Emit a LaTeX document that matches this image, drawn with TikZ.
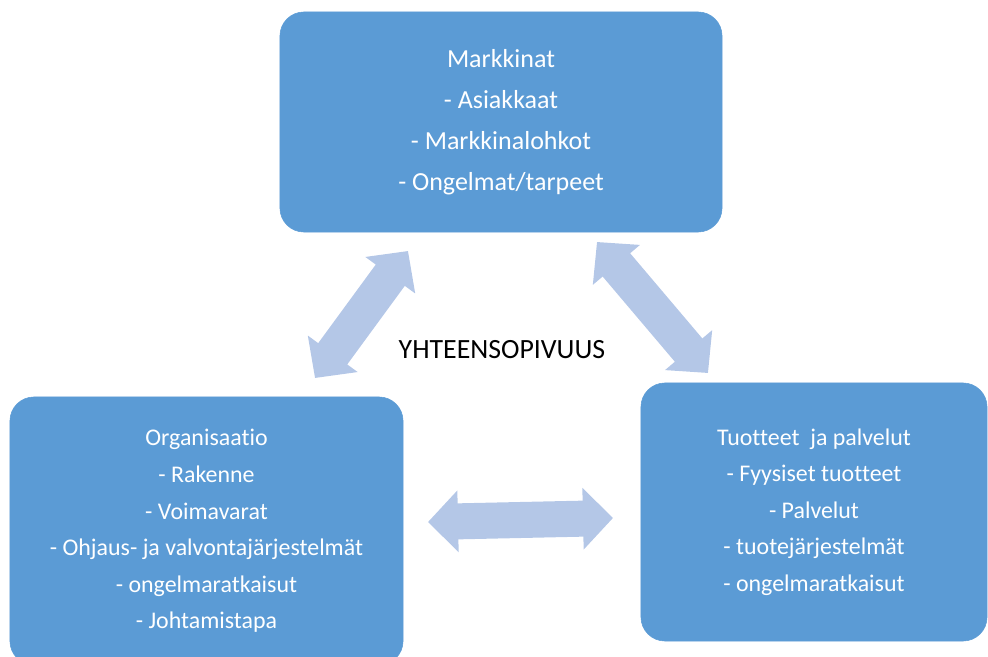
\documentclass[tikz,border=0pt]{standalone}
\usepackage{fontspec}
\setmainfont{Carlito}[Ligatures=NoCommon]
\usetikzlibrary{arrows.meta}
\definecolor{boxblue}{HTML}{5B9BD5}
\definecolor{arrowblue}{HTML}{B4C7E7}

\begin{document}
\begin{tikzpicture}[x=0.025cm, y=-0.025cm]
  \tikzset{area/.style={rectangle, rounded corners=0.6cm, fill=boxblue, draw=boxblue, text=white, align=center, inner sep=0pt},
           link/.style={arrowblue, line width=0.9cm, {Triangle[length=0.75cm, width=1.5cm]}-{Triangle[length=0.75cm, width=1.5cm]}}}

  \useasboundingbox (0,0) rectangle (988,657);

  \node[area, minimum width=11.05cm, minimum height=5.5cm, font=\fontsize{18.5}{29.2}\selectfont] (markets) at (501,122)
    {Markkinat\\- Asiakkaat\\- Markkinalohkot\\- Ongelmat/tarpeet};
  \node[area, minimum width=9.825cm, minimum height=6.7cm, font=\fontsize{17}{26}\selectfont] (org) at (206.5,531)
    {Organisaatio\\- Rakenne\\- Voimavarat\\- Ohjaus- ja valvontajärjestelmät\\- ongelmaratkaisut\\- Johtamistapa};
  \node[area, minimum width=8.65cm, minimum height=6.45cm, font=\fontsize{17}{26}\selectfont] (products) at (814,512)
    {Tuotteet\ \ ja palvelut\\- Fyysiset tuotteet\\- Palvelut\\- tuotejärjestelmät\\- ongelmaratkaisut};

  \node[font=\fontsize{19.8}{24}\selectfont] (fit) at (502,350) {YHTEENSOPIVUUS};

  %--- arrow ends ---
  \coordinate (m-left)  at (408,251);
  \coordinate (o-top)   at (315,378);
  \coordinate (m-right) at (597,242);
  \coordinate (p-top)   at (708,373);
  \coordinate (o-right) at (428,522);
  \coordinate (p-left)  at (613,518);

  %--- double arrows ---
  \draw[link] (o-top) -- (m-left);
  \draw[link] (m-right) -- (p-top);
  \draw[link] (o-right) -- (p-left);
\end{tikzpicture}
\end{document}
